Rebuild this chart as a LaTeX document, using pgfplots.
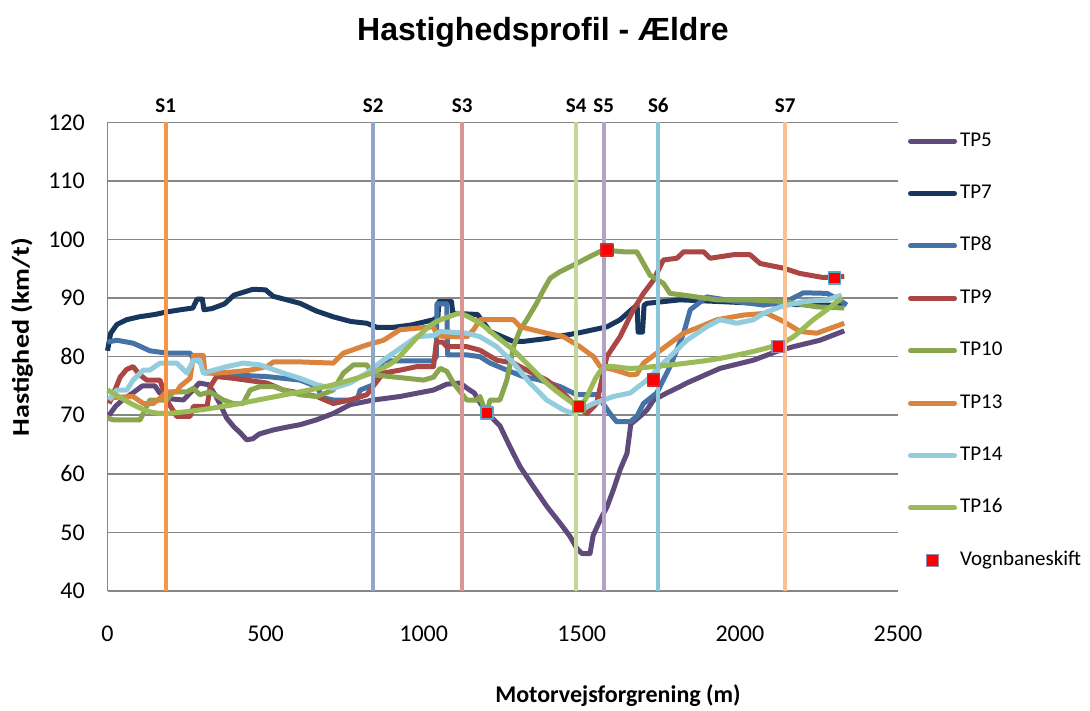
\documentclass[border=0pt]{standalone}
\usepackage{pgfplots}
\pgfplotsset{compat=1.18}
\usepackage{fontspec}
\setmainfont{Carlito}
\newfontfamily\titlefont{Liberation Sans}
\newfontfamily\ylabfont{Carlito}[FakeStretch=1.17]
\definecolor{cTPfive}{HTML}{604A7B}
\definecolor{cTPseven}{HTML}{17375E}
\definecolor{cTPeight}{HTML}{4572A7}
\definecolor{cTPnine}{HTML}{AA4643}
\definecolor{cTPten}{HTML}{89A54E}
\definecolor{cTPthirteen}{HTML}{DB843D}
\definecolor{cTPfourteen}{HTML}{93CDDD}
\definecolor{cTPsixteen}{HTML}{9BBB59}
\definecolor{cSone}{HTML}{F79646}
\definecolor{cStwo}{HTML}{8FA7CE}
\definecolor{cSthree}{HTML}{D99694}
\definecolor{cSfour}{HTML}{C3D69B}
\definecolor{cSfive}{HTML}{B3A2C7}
\definecolor{cSsix}{HTML}{8CC4D8}
\definecolor{cSseven}{HTML}{FAC090}
\definecolor{gridgray}{HTML}{868686}
\pgfkeys{/pgf/number format/1000 sep={}}
\pgfplotsset{marklegend/.style={legend image code/.code={\draw[##1, mark repeat=2, mark phase=2] plot coordinates {(0pt,0pt) (24.5pt,0pt) (49pt,0pt)};}}}
\begin{document}
\begin{tikzpicture}[x=1pt,y=1pt]
\useasboundingbox (0,0) rectangle (1090,710);
\begin{axis}[
  at={(107.5pt,119pt)}, anchor=south west,
  scale only axis, width=790.5pt, height=468.7pt,
  xmin=0, xmax=2500, ymin=40, ymax=120,
  xtick={0,500,...,2500}, ytick={40,50,...,120},
  scaled ticks=false,
  axis x line*=bottom, axis y line*=left,
  axis line style={gridgray, line width=1.5pt},
  ymajorgrids, grid style={gridgray, line width=1.5pt},
  major tick length=0pt,
  xticklabel={\fontsize{24}{24}\selectfont\pgfmathprintnumber[assume math mode=true,1000 sep={}]{\tick}},
  yticklabel={\fontsize{24}{24}\selectfont\pgfmathprintnumber[assume math mode=true]{\tick}},
  xticklabel style={inner sep=0pt, anchor=north, yshift=-35pt},
  yticklabel style={inner sep=0pt, anchor=east, xshift=-22.5pt},
  clip=false,
  every axis plot/.append style={line join=round},
  legend image code/.code={\draw[#1, line cap=round] (2.5pt,0pt) -- (46.5pt,0pt);},
  legend style={at={(axis description cs:1.0127,0.9812)}, anchor=north west,
    draw=none, fill=none, inner sep=0pt, outer sep=0pt, row sep=32.4pt, column sep=3pt,
    font=\fontsize{21}{21}\selectfont,
    nodes={inner sep=0pt, text height=15pt, text depth=5pt}},
  legend cell align=left,
]
% TP5
\addplot[cTPfive, line width=5pt] coordinates {
(5,70) (25,71.5) (45,72.5) (80,73.8) (110,75) (150,75) (165,73.8) (200,72.8) (240,72.6) (265,74) (290,75.5) (320,75.2) (340,73.5) (355,72) (377,69.5) (400,68) (420,67) (440,65.8) (460,66) (480,66.8) (525,67.5) (570,68) (610,68.4) (660,69.2) (714,70.3) (767,71.8) (841,72.6) (925,73.2) (1031,74.3) (1073,75.3) (1115,75.5) (1140,74.5) (1160,73.8) (1180,72) (1200,70.4) (1241,68.2) (1273,64.6) (1305,61.2) (1347,57.8) (1390,54.4) (1431,51.6) (1463,49.3) (1484,47.3) (1500,46.4) (1526,46.4) (1536,49.5) (1558,52.1) (1580,54.4) (1600,57.3) (1621,60.7) (1643,63.5) (1655,68.5) (1684,69.8) (1706,70.9) (1727,72.6) (1769,73.8) (1811,74.9) (1832,75.5) (1937,78) (2043,79.4) (2117,80.9) (2169,81.7) (2253,82.8) (2330,84.4)};
\addlegendentry{TP5}
% TP7
\addplot[cTPseven, line width=5pt] coordinates {
(0,81) (10,84) (30,85.5) (60,86.3) (100,86.8) (150,87.2) (184,87.6) (230,88) (270,88.3) (283,89.8) (300,89.8) (305,88) (330,88.2) (370,89) (400,90.5) (430,91) (460,91.5) (500,91.4) (524,90.3) (560,89.8) (609,89.1) (660,87.8) (714,86.8) (770,86) (820,85.7) (852,85) (903,85) (960,85.4) (1031,86.3) (1045,86.8) (1048,89.4) (1088,89.4) (1092,87.4) (1170,87.2) (1210,84.3) (1283,82.6) (1315,82.6) (1390,83.1) (1494,84.1) (1580,85.1) (1621,86.3) (1663,88.3) (1675,88.8) (1678,84.2) (1692,84.2) (1697,88.8) (1706,89.1) (1811,89.7) (1937,89.4) (2100,89) (2253,88.8) (2330,88.8)};
\addlegendentry{TP7}
% TP8
\addplot[cTPeight, line width=5pt] coordinates {
(0,82.5) (30,82.8) (81,82.3) (110,81.6) (134,81) (187,80.6) (261,80.6) (270,79.8) (292,79.1) (310,77.5) (350,77) (504,76.6) (609,76) (662,74.9) (680,73) (714,72.6) (789,72.6) (799,74.3) (841,75.2) (872,79.3) (1031,79.3) (1040,80) (1042,89) (1073,89) (1076,80.3) (1137,80.3) (1178,80) (1210,78.9) (1263,77.7) (1315,76.6) (1368,76) (1431,74.9) (1484,73.5) (1548,73.5) (1589,70.3) (1610,68.9) (1653,68.9) (1674,69.8) (1695,72) (1737,73.8) (1779,78.3) (1822,84) (1843,88) (1895,90.2) (1990,89.4) (2075,88.8) (2150,89.5) (2201,90.9) (2276,90.8) (2320,89.5) (2338,88.8)};
\addlegendentry{TP8}
% TP9
\addplot[cTPnine, line width=5pt] coordinates {
(5,72) (25,74.5) (40,76.5) (60,77.8) (81,78.3) (100,77) (124,76) (166,76) (187,72.6) (219,69.8) (261,69.8) (272,71.5) (315,71.5) (325,74.9) (345,76.6) (398,76.3) (504,75.5) (556,74.3) (609,73.8) (662,73.2) (714,72) (767,72.6) (820,73.5) (872,77.2) (925,77.7) (978,78.3) (1031,78.3) (1040,82.5) (1060,82.5) (1073,81.7) (1137,81.7) (1178,81.1) (1231,79.4) (1284,78.9) (1336,77.4) (1389,76) (1442,73.8) (1473,72) (1516,70.3) (1547,72) (1579,80) (1621,83.4) (1663,88) (1695,90.8) (1727,93.1) (1758,96.5) (1801,96.8) (1822,97.9) (1885,97.9) (1906,96.8) (1980,97.4) (2032,97.4) (2064,95.9) (2138,95.1) (2190,94.2) (2264,93.5) (2330,93.7)};
\addlegendentry{TP9}
% TP10
\addplot[cTPten, line width=5pt] coordinates {
(0,69.5) (20,69.2) (103,69.2) (113,70.3) (134,72.6) (187,72.6) (208,74) (251,74) (272,74.6) (292,73.5) (324,74) (366,72.6) (398,72) (429,72) (451,74.3) (482,74.9) (525,74.9) (556,74.3) (609,73.5) (662,73.2) (714,74.3) (746,77.2) (778,78.6) (820,78.6) (841,76.9) (1000,76) (1031,76.5) (1052,78) (1073,77.5) (1094,75.5) (1136,72.6) (1168,72.6) (1178,73.2) (1189,71.5) (1200,70.6) (1210,72.6) (1241,72.6) (1263,76) (1284,81.7) (1305,84.6) (1326,86.3) (1357,89.1) (1379,91.4) (1400,93.4) (1431,94.5) (1484,95.9) (1526,97.1) (1568,98.2) (1632,97.9) (1674,97.9) (1695,95.9) (1716,93.9) (1758,92.5) (1779,90.8) (1822,90.5) (1927,89.7) (2032,89.7) (2138,89.4) (2243,88.5) (2330,88.3)};
\addlegendentry{TP10}
% TP13
\addplot[cTPthirteen, line width=5pt] coordinates {
(5,73) (81,73.2) (113,72) (145,72) (166,72.9) (187,74) (219,74) (229,74.9) (261,76.3) (272,80.2) (303,80.2) (308,77.2) (345,77.2) (398,77.4) (451,77.7) (504,78.3) (525,79.1) (609,79.1) (714,78.9) (746,80.6) (820,82) (873,82.8) (925,84.6) (1031,85.1) (1042,83.6) (1073,83.4) (1137,83.4) (1158,84.6) (1178,86.3) (1284,86.3) (1305,85.1) (1389,84) (1442,83.4) (1494,81.7) (1537,80) (1558,78.3) (1600,77.8) (1653,76.9) (1674,77) (1695,78.9) (1737,80.6) (1779,82.3) (1822,84) (1874,85.1) (1927,86.3) (2011,87.1) (2085,87.4) (2138,86) (2190,84.3) (2243,84) (2330,85.7)};
\addlegendentry{TP13}
% TP14
\addplot[cTPfourteen, line width=5pt] coordinates {
(5,72.6) (29,74.3) (61,74.3) (81,76) (113,77.7) (134,77.7) (166,78.9) (219,78.9) (251,77.2) (272,79.4) (292,79.4) (303,77.2) (377,78.3) (429,78.9) (482,78.6) (556,77.2) (609,76.3) (662,75.2) (714,74.6) (767,75.5) (820,77.2) (872,79.4) (925,81.4) (978,83.4) (1031,83.6) (1052,84.3) (1136,84) (1178,83.4) (1231,81.7) (1284,78.9) (1336,75.5) (1389,72.6) (1442,70.9) (1473,70.3) (1537,72) (1600,73.2) (1653,73.8) (1706,76) (1758,78.9) (1811,81.7) (1832,82.8) (1895,85.1) (1937,86.3) (1990,85.7) (2043,86.3) (2075,87.4) (2127,88.5) (2201,89.4) (2275,89.7) (2322,90.5)};
\addlegendentry{TP14}
% TP16
\addplot[cTPsixteen, line width=5pt, smooth, tension=0.5] coordinates {
(0,74.3) (81,71.8) (134,70.6) (187,70.3) (292,70.9) (398,71.8) (504,72.9) (609,74) (714,75.2) (820,76.9) (904,79.1) (978,83.2) (1031,85.7) (1094,87.1) (1120,87.3) (1178,85.7) (1231,83.4) (1284,81.1) (1336,78.3) (1389,75.5) (1442,73.2) (1484,71.8) (1510,72.6) (1547,76.6) (1579,78.3) (1653,78) (1727,78.3) (1832,78.9) (1937,79.7) (2043,80.9) (2117,82) (2169,83.4) (2232,86.3) (2275,88) (2322,90)};
\addlegendentry{TP16}
% section lines
\addplot[cSone, line width=4pt, forget plot] coordinates {(184,40) (184,120)};
\addplot[cStwo, line width=4pt, forget plot] coordinates {(840,40) (840,120)};
\addplot[cSthree, line width=4pt, forget plot] coordinates {(1122,40) (1122,120)};
\addplot[cSfour, line width=4pt, forget plot] coordinates {(1482,40) (1482,120)};
\addplot[cSfive, line width=4pt, forget plot] coordinates {(1569,40) (1569,120)};
\addplot[cSsix, line width=4pt, forget plot] coordinates {(1742,40) (1742,120)};
\addplot[cSseven, line width=4pt, forget plot] coordinates {(2143,40) (2143,120)};
% lane changes
\addplot[only marks, mark=square*, mark size=6pt, mark options={fill=red, draw=cyan!60!gray, line width=1.5pt}, forget plot] coordinates {(1200,70.4) (2299,93.4)};
\addplot[only marks, mark=square*, mark size=6pt, mark options={fill=red, draw=cTPten, line width=1.5pt}, forget plot] coordinates {(1491,71.5)};
\addplot[only marks, mark=square*, mark size=6pt, mark options={fill=red, draw=cTPnine!70!red, line width=1.5pt}, forget plot] coordinates {(1579,98.2) (1726,76.0)};
\addplot[only marks, mark=square*, mark size=6pt, mark options={fill=red, draw=cSfive!70!cTPfive, line width=1.5pt}, marklegend] coordinates {(2121,81.7)};
\addlegendentry{Vognbaneskift}
% section labels
\foreach \xs/\lab in {184/S1,840/S2,1122/S3,1482/S4,1569/S5,1742/S6,2143/S7}{
  \edef\temp{\noexpand\node[anchor=base, inner sep=0pt, yshift=9.8pt, font=\noexpand\fontsize{21}{21}\noexpand\selectfont\noexpand\bfseries] at (axis cs:\xs,120) {\lab};}
  \temp
}
\end{axis}
\node[anchor=base, inner sep=0pt, font=\titlefont\bfseries\fontsize{32}{32}\selectfont] at (543,669) {Hastighedsprofil - Ældre};
\node[anchor=base, inner sep=0pt, font=\bfseries\fontsize{24}{24}\selectfont] at (618,7.3) {Motorvejsforgrening (m)};
\node[anchor=base, inner sep=0pt, rotate=90, font=\ylabfont\bfseries\fontsize{24}{24}\selectfont] at (28.8,373) {Hastighed (km/t)};
\end{tikzpicture}
\end{document}
